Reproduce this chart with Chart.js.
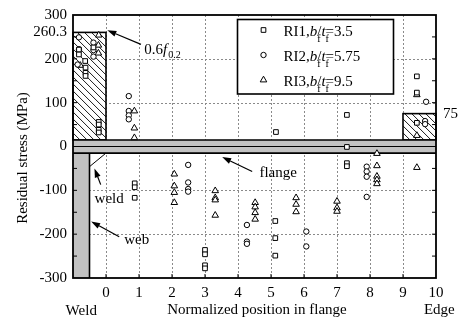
<!DOCTYPE html>
<html>
<head>
<meta charset="utf-8">
<script src="https://cdn.jsdelivr.net/npm/chart.js@4.4.1/dist/chart.umd.min.js"></script>
<style>
  html, body { margin: 0; padding: 0; background: #fff; }
  canvas { display: block; }
</style>
</head>
<body>
<canvas id="c" width="465" height="324"></canvas>
<script>
// Residual stress across the flange of three welded I-sections.

const seriesNames = ['RI1', 'RI2', 'RI3'];
const widthThicknessRatios = ['3.5', '5.75', '9.5'];

// [normalized position in flange, residual stress (MPa)]
const ri1Points = [
  [-0.82, 221], [-0.82, 210], [-0.38, 226],
  [-0.63, 195], [-0.62, 180], [-0.62, 168], [-0.62, 161],
  [-0.22, 56], [-0.22, 50], [-0.22, 38], [-0.22, 32],
  [0.87, -84], [0.87, -93], [0.87, -117],
  [3.0, -236], [3.0, -246], [3.0, -271], [3.0, -278],
  [5.15, 33], [5.13, -170], [5.13, -209], [5.13, -249],
  [7.3, 72], [7.3, -1], [7.3, -38], [7.3, -45],
  [9.42, 160], [9.42, 123], [9.42, 54]
];
const ri2Points = [
  [-0.82, 249], [-0.82, 222], [-0.86, 187],
  [-0.38, 237], [-0.38, 220], [-0.38, 205],
  [0.69, 115], [0.69, 81], [0.69, 71], [0.69, 62],
  [2.49, -42], [2.49, -82], [2.49, -97], [2.49, -103],
  [4.27, -179], [4.27, -217], [4.27, -222],
  [6.07, -194], [6.07, -228],
  [7.9, -46], [7.9, -57], [7.9, -69], [7.9, -115],
  [9.7, 102], [9.67, 58], [9.67, 51]
];
const ri3Points = [
  [-0.78, 185], [-0.22, 254], [-0.23, 231], [-0.23, 213],
  [0.86, 81], [0.86, 42], [0.86, 20],
  [2.07, -63], [2.07, -90], [2.07, -105], [2.07, -128],
  [3.31, -101], [3.31, -117], [3.31, -122], [3.31, -157],
  [4.52, -128], [4.52, -138], [4.52, -151], [4.52, -166],
  [5.76, -117], [5.76, -132], [5.76, -149],
  [7.0, -125], [7.0, -140], [7.0, -148],
  [8.21, -16], [8.21, -44], [8.21, -68], [8.21, -76], [8.21, -85],
  [9.42, 118], [9.42, 25], [9.42, -48]
];

const xTickValues = [-1, 0, 1, 2, 3, 4, 5, 6, 7, 8, 9, 10];
const yTickValues = [-300, -200, -100, 0, 100, 200, 260.3, 300];
const xGridValues = [0, 1, 2, 3, 4, 5, 6, 7, 8, 9];
const yGridValues = [-200, -100, 100, 200];
const yMinorTickValues = [-250, -200, -150, -100, -50, 50, 100, 150, 200, 250];

// idealised stress pattern: tension blocks at the weld and at the edge
const weldBlockStress = 260.3;   // 0.6 f0.2
const edgeBlockStress = 75;
const flangeBandHalf = 15;       // drawn half-depth of the flange strip

const SERIF = '"Liberation Serif", "Times New Roman", serif';
const markerStyles = ['rect', 'circle', 'triangle'];
const markerRadius = [3.3, 2.7, 3.8];

function toXY(list) { return list.map(([x, y]) => ({ x, y })); }

function drawMarker(ctx, style, r, X, Y) {
  ctx.beginPath();
  if (style === 'rect') {
    const s = r * Math.SQRT1_2;
    ctx.rect(X - s, Y - s, 2 * s, 2 * s);
  } else if (style === 'circle') {
    ctx.arc(X, Y, r, 0, Math.PI * 2);
  } else {
    const h = r * 1.5, w = r * Math.sqrt(3) / 2;
    ctx.moveTo(X, Y - r);
    ctx.lineTo(X + w, Y - r + h);
    ctx.lineTo(X - w, Y - r + h);
    ctx.closePath();
  }
  ctx.fillStyle = '#fff';
  ctx.fill();
  ctx.lineWidth = 1;
  ctx.strokeStyle = '#000';
  ctx.stroke();
}

function arrow(ctx, x1, y1, x2, y2) {
  const ang = Math.atan2(y2 - y1, x2 - x1);
  const len = 9, half = 3;
  const bx = x2 - len * Math.cos(ang), by = y2 - len * Math.sin(ang);
  ctx.beginPath();
  ctx.moveTo(x1, y1);
  ctx.lineTo(bx, by);
  ctx.lineWidth = 1.2;
  ctx.strokeStyle = '#000';
  ctx.stroke();
  ctx.beginPath();
  ctx.moveTo(x2, y2);
  ctx.lineTo(bx + half * Math.sin(ang), by - half * Math.cos(ang));
  ctx.lineTo(bx - half * Math.sin(ang), by + half * Math.cos(ang));
  ctx.closePath();
  ctx.fillStyle = '#000';
  ctx.fill();
}

function hatchedBlock(ctx, L, T, R, B) {
  ctx.save();
  ctx.fillStyle = '#fff';
  ctx.fillRect(L, T, R - L, B - T);
  ctx.beginPath();
  ctx.rect(L, T, R - L, B - T);
  ctx.clip();
  ctx.beginPath();
  const H = B - T;
  for (let k = -H; k < R - L + 2; k += 7) {
    ctx.moveTo(L + k, T);
    ctx.lineTo(L + k + H, B);
  }
  ctx.lineWidth = 0.9;
  ctx.strokeStyle = '#000';
  ctx.stroke();
  ctx.restore();
  ctx.lineWidth = 1.6;
  ctx.strokeStyle = '#000';
  ctx.strokeRect(L, T, R - L, B - T);
}

const figureDecor = {
  id: 'figureDecor',
  beforeDatasetsDraw(chart) {
    const { ctx, chartArea: a, scales: { x, y } } = chart;
    const px = v => x.getPixelForValue(v), py = v => y.getPixelForValue(v);
    ctx.save();

    // dotted grid
    ctx.strokeStyle = '#8a8a8a';
    ctx.lineWidth = 1;
    ctx.setLineDash([2, 2]);
    ctx.beginPath();
    for (const v of xGridValues) {
      const X = Math.round(px(v)) + 0.5;
      ctx.moveTo(X, a.top); ctx.lineTo(X, a.bottom);
    }
    for (const v of yGridValues) {
      const Y = Math.round(py(v)) + 0.5;
      ctx.moveTo(a.left, Y); ctx.lineTo(a.right, Y);
    }
    ctx.stroke();
    ctx.setLineDash([]);

    // tension blocks
    hatchedBlock(ctx, px(-1), py(weldBlockStress), px(0), py(flangeBandHalf));
    hatchedBlock(ctx, px(9), py(edgeBlockStress), px(10), py(flangeBandHalf));

    // web
    ctx.fillStyle = '#c2c2c2';
    ctx.fillRect(px(-1), py(-flangeBandHalf), px(-0.5) - px(-1), py(-300) - py(-flangeBandHalf));
    ctx.beginPath();
    ctx.moveTo(px(-0.5), py(-flangeBandHalf));
    ctx.lineTo(px(-0.5), py(-300));
    ctx.lineWidth = 1.6;
    ctx.strokeStyle = '#000';
    ctx.stroke();

    // flange strip
    const bt = py(flangeBandHalf), bb = py(-flangeBandHalf);
    ctx.fillStyle = '#c2c2c2';
    ctx.fillRect(a.left, bt, a.right - a.left, bb - bt);
    ctx.beginPath();
    ctx.moveTo(a.left, bt); ctx.lineTo(a.right, bt);
    ctx.moveTo(a.left, bb); ctx.lineTo(a.right, bb);
    ctx.lineWidth = 1.6;
    ctx.stroke();
    ctx.beginPath();
    ctx.moveTo(a.left, py(0)); ctx.lineTo(a.right, py(0));
    ctx.lineWidth = 1;
    ctx.stroke();

    // fillet weld
    ctx.beginPath();
    ctx.moveTo(px(-0.5), py(-46));
    ctx.lineTo(px(0), py(-flangeBandHalf));
    ctx.lineWidth = 1;
    ctx.stroke();

    ctx.restore();
  },
  afterDatasetsDraw(chart) {
    const { ctx, chartArea: a, scales: { x, y } } = chart;
    const px = v => x.getPixelForValue(v), py = v => y.getPixelForValue(v);
    ctx.save();

    // inward tick marks
    ctx.beginPath();
    for (const v of yMinorTickValues) {
      const Y = py(v);
      ctx.moveTo(a.left, Y); ctx.lineTo(a.left + 4, Y);
      ctx.moveTo(a.right, Y); ctx.lineTo(a.right - 4, Y);
    }
    for (const v of xGridValues) {
      const X = px(v);
      ctx.moveTo(X, a.bottom); ctx.lineTo(X, a.bottom - 4);
    }
    ctx.lineWidth = 1;
    ctx.strokeStyle = '#000';
    ctx.stroke();

    // frame
    ctx.lineWidth = 1.8;
    ctx.strokeRect(a.left, a.top, a.right - a.left, a.bottom - a.top);

    // annotations
    ctx.fillStyle = '#000';
    ctx.textBaseline = 'alphabetic';
    ctx.textAlign = 'left';
    arrow(ctx, px(1.06), py(233), px(0.04), py(265));
    let tx = px(1.16);
    const ty = py(212);
    ctx.font = '15px ' + SERIF;
    ctx.fillText('0.6', tx, ty);
    tx += ctx.measureText('0.6').width;
    ctx.font = 'italic 15px ' + SERIF;
    ctx.fillText('f', tx, ty);
    tx += ctx.measureText('f').width + 1;
    ctx.font = '10px ' + SERIF;
    ctx.fillText('0.2', tx, ty + 4);

    ctx.font = '15px ' + SERIF;
    arrow(ctx, px(4.43), py(-57), px(3.52), py(-24));
    ctx.fillText('flange', px(4.65), py(-69));
    arrow(ctx, px(-0.16), py(-87), px(-0.35), py(-50));
    ctx.fillText('weld', px(-0.345), py(-128));
    arrow(ctx, px(0.4), py(-206), px(-0.45), py(-171));
    ctx.fillText('web', px(0.55), py(-222));

    ctx.textBaseline = 'middle';
    ctx.fillText('75', a.right + 7, py(edgeBlockStress));

    // axis titles
    ctx.textBaseline = 'alphabetic';
    ctx.textAlign = 'center';
    ctx.fillText('Weld', px(-0.75), a.bottom + 37);
    ctx.fillText('Edge', px(10.1), a.bottom + 36);
    ctx.fillText('Normalized position in flange', 257, a.bottom + 36);
    ctx.save();
    ctx.translate(27, 158);
    ctx.rotate(-Math.PI / 2);
    ctx.fillText('Residual stress (MPa)', 0, 0);
    ctx.restore();

    // legend
    const LL = 237.5, LT = 19.5, LR = 393.5, LB = 94;
    ctx.fillStyle = '#fff';
    ctx.fillRect(LL, LT, LR - LL, LB - LT);
    ctx.lineWidth = 1.6;
    ctx.strokeStyle = '#000';
    ctx.strokeRect(LL, LT, LR - LL, LB - LT);
    ctx.textAlign = 'left';
    ctx.textBaseline = 'alphabetic';
    seriesNames.forEach((name, i) => {
      const cy = 30 + i * 25;
      drawMarker(ctx, markerStyles[i], markerRadius[i], 263.5, cy);
      ctx.fillStyle = '#000';
      const base = cy + 6;
      let lx = 283.5;
      const put = (txt, font, dy, adv) => {
        ctx.font = font;
        ctx.fillText(txt, lx, base + dy);
        if (adv) lx += ctx.measureText(txt).width;
      };
      put(name + ',', '15px ' + SERIF, 0, true);
      put('b', 'italic 15px ' + SERIF, 0, true);
      put('f', '10px ' + SERIF, 6, false);
      put('/', '15px ' + SERIF, 0, true);
      put('t', 'italic 15px ' + SERIF, 0, true);
      put('f', '10px ' + SERIF, 6, false);
      put('=' + widthThicknessRatios[i], '15px ' + SERIF, 0, true);
    });

    ctx.restore();
  }
};

const pointSeries = [ri1Points, ri2Points, ri3Points];

new Chart(document.getElementById('c'), {
  type: 'scatter',
  data: {
    datasets: pointSeries.map((pts, i) => ({
      label: seriesNames[i],
      data: toXY(pts),
      pointStyle: markerStyles[i],
      pointRadius: markerRadius[i],
      pointBackgroundColor: '#ffffff',
      pointBorderColor: '#000000',
      pointBorderWidth: 1
    }))
  },
  options: {
    responsive: false,
    animation: false,
    events: [],
    layout: { padding: { top: 11, right: 29, left: 0, bottom: 0 } },
    plugins: { legend: { display: false }, tooltip: { enabled: false } },
    scales: {
      x: {
        type: 'linear',
        min: -1,
        max: 10,
        grid: { display: false, drawTicks: false },
        border: { display: false },
        afterBuildTicks: s => { s.ticks = xTickValues.map(v => ({ value: v })); },
        afterFit: s => { s.height = 46; },
        ticks: {
          autoSkip: false,
          maxRotation: 0,
          padding: 6,
          color: '#000',
          font: { family: SERIF, size: 15 },
          callback: v => (v === -1 ? '' : String(v))
        }
      },
      y: {
        type: 'linear',
        min: -300,
        max: 300,
        grid: { display: false, drawTicks: false },
        border: { display: false },
        afterBuildTicks: s => { s.ticks = yTickValues.map(v => ({ value: v })); },
        afterFit: s => { s.width = 73; },
        ticks: {
          autoSkip: false,
          padding: 6,
          color: '#000',
          font: { family: SERIF, size: 15 },
          callback: v => String(v)
        }
      }
    }
  },
  plugins: [figureDecor]
});
</script>
</body>
</html>
